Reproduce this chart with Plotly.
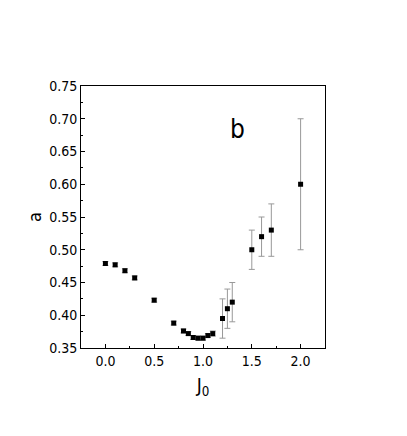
#!/usr/bin/env python3
import plotly.graph_objects as go

# data
j0 = [0.0, 0.1, 0.2, 0.3, 0.5, 0.7, 0.8, 0.85, 0.9, 0.95, 1.0, 1.05, 1.1,
      1.2, 1.25, 1.3, 1.5, 1.6, 1.7, 2.0]
a_vals = [0.479, 0.477, 0.468, 0.457, 0.423, 0.388, 0.376, 0.372, 0.366, 0.365,
          0.365, 0.369, 0.372, 0.395, 0.41, 0.42, 0.5, 0.52, 0.53, 0.6]
a_err = [0.003, 0.003, 0.003, 0.003, 0.003, 0.003, 0.003, 0.003, 0.003, 0.003,
         0.003, 0.003, 0.004, 0.03, 0.03, 0.03, 0.03, 0.03, 0.04, 0.1]

font_family = "DejaVu Sans Condensed, Liberation Sans Narrow, Arial Narrow, Liberation Sans"

fig = go.Figure()

fig.add_trace(go.Scatter(
    x=j0, y=a_vals,
    mode='markers',
    marker=dict(symbol='square', size=5, color='black'),
    error_y=dict(type='data', array=a_err, visible=True,
                 color='#999999', thickness=1, width=3),
    showlegend=False,
))

# panel label
fig.add_annotation(x=1.35, y=0.684, text='b', showarrow=False,
                   font=dict(size=26, color='black', family=font_family))

axis_common = dict(
    showline=True, linecolor='black', linewidth=1, mirror=True,
    ticks='inside', ticklen=4, tickcolor='black', tickwidth=1,
    showgrid=False, zeroline=False,
    tickfont=dict(size=14, color='black', family=font_family),
)

fig.update_xaxes(range=[-0.25, 2.25], tick0=0, dtick=0.5, tickformat='.1f',
                 minor=dict(ticks='inside', ticklen=2, dtick=0.25, tick0=0,
                            tickcolor='black'),
                 title=dict(text='J<sub>0</sub>', standoff=10,
                            font=dict(size=19, color='black', family=font_family)),
                 **axis_common)
fig.update_yaxes(range=[0.35, 0.75], tick0=0.35, dtick=0.05, tickformat='.2f',
                 minor=dict(ticks='inside', ticklen=2, dtick=0.025, tick0=0.35,
                            tickcolor='black'),
                 title=dict(text='a', standoff=2,
                            font=dict(size=18, color='black', family=font_family)),
                 **axis_common)

# page body adds an 8px offset, so the figure is a bit smaller than the window
fig.update_layout(
    width=399, height=428,
    margin=dict(l=73, r=82, t=78, b=88),
    plot_bgcolor='white', paper_bgcolor='white',
)

fig.write_html("out.html")
